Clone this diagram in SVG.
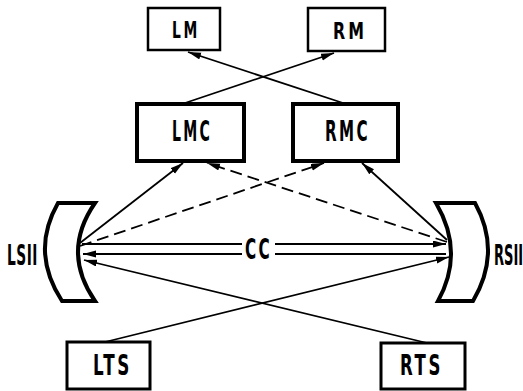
<svg xmlns="http://www.w3.org/2000/svg" width="523" height="391" viewBox="0 0 523 391">
<style>
.box{fill:#fff;stroke:#000}
.lbl{font-family:"DejaVu Sans Condensed","Liberation Sans",sans-serif;font-weight:bold;fill:#000;letter-spacing:4px}
.ln{fill:none;stroke:#000;stroke-width:1.8}
.dash{stroke-dasharray:12 6}
.mir{fill:#fff;stroke:#000;stroke-width:4;stroke-linejoin:miter}
</style>
<defs>
<marker id="ah" markerUnits="userSpaceOnUse" markerWidth="14" markerHeight="8" refX="13" refY="3.5" orient="auto">
<path d="M0,0 L13,3.5 L0,7 z" fill="#000"/>
</marker>
</defs>
<rect width="523" height="391" fill="#fff"/>
<g id="connectors">
<path class="ln" d="M80,243 L183,163" marker-end="url(#ah)"/>
<path class="ln dash" d="M80,246 L324,163" marker-end="url(#ah)"/>
<path class="ln dash" d="M447,242 L207,163" marker-end="url(#ah)"/>
<path class="ln" d="M447,240 L362,163" marker-end="url(#ah)"/>
<path class="ln" d="M82,244 L242,244"/>
<path class="ln" d="M275,244 L446,244" marker-end="url(#ah)"/>
<path class="ln" d="M446,254 L275,254"/>
<path class="ln" d="M242,254 L83,254" marker-end="url(#ah)"/>
<path class="ln" d="M105,342 L449,257" marker-end="url(#ah)"/>
<path class="ln" d="M427,343 L84,260" marker-end="url(#ah)"/>
<path class="ln" d="M185,103 L334,53" marker-end="url(#ah)"/>
<path class="ln" d="M343,103 L188,52" marker-end="url(#ah)"/>
<text class="lbl" x="258.5" y="259" font-size="29" text-anchor="middle" textLength="27" lengthAdjust="spacingAndGlyphs">CC</text>
</g>
<g id="LM"><rect class="box" x="148" y="8" width="72" height="42" stroke-width="2.5"/>
<text class="lbl" x="186" y="37.5" font-size="23" text-anchor="middle" textLength="28" lengthAdjust="spacingAndGlyphs">LM</text></g>
<g id="RM"><rect class="box" x="308" y="8" width="77" height="43" stroke-width="2.5"/>
<text class="lbl" x="350" y="38.5" font-size="23" text-anchor="middle" textLength="34" lengthAdjust="spacingAndGlyphs">RM</text></g>
<g id="LMC"><rect class="box" x="137" y="104" width="107" height="57" stroke-width="4"/>
<text class="lbl" x="192" y="141" font-size="28" text-anchor="middle" textLength="40" lengthAdjust="spacingAndGlyphs">LMC</text></g>
<g id="RMC"><rect class="box" x="293" y="104" width="105" height="57" stroke-width="4"/>
<text class="lbl" x="347.5" y="140.5" font-size="28" text-anchor="middle" textLength="45" lengthAdjust="spacingAndGlyphs">RMC</text></g>
<g id="LTS"><rect class="box" x="67" y="342" width="83" height="47" stroke-width="3"/>
<text class="lbl" x="112.5" y="375" font-size="28" text-anchor="middle" textLength="39" lengthAdjust="spacingAndGlyphs">LTS</text></g>
<g id="RTS"><rect class="box" x="381" y="343" width="84" height="46" stroke-width="3"/>
<text class="lbl" x="421.5" y="375" font-size="28" text-anchor="middle" textLength="43" lengthAdjust="spacingAndGlyphs">RTS</text></g>
<g id="LSII"><path class="mir" d="M58,203 L95,203 Q61,252 95,301 L62,301 Q30,252 58,203 Z"/>
<text class="lbl" x="7" y="265" font-size="29" textLength="31" lengthAdjust="spacingAndGlyphs" style="letter-spacing:1px">LSII</text></g>
<g id="RSII"><path class="mir" d="M436,203 L475,203 Q502,252 473,301 L438,301 Q465,252 436,203 Z"/>
<text class="lbl" x="0" y="0" font-size="29" transform="translate(494,265) scale(0.5,1)" style="letter-spacing:0px">RSII</text></g>
</svg>
